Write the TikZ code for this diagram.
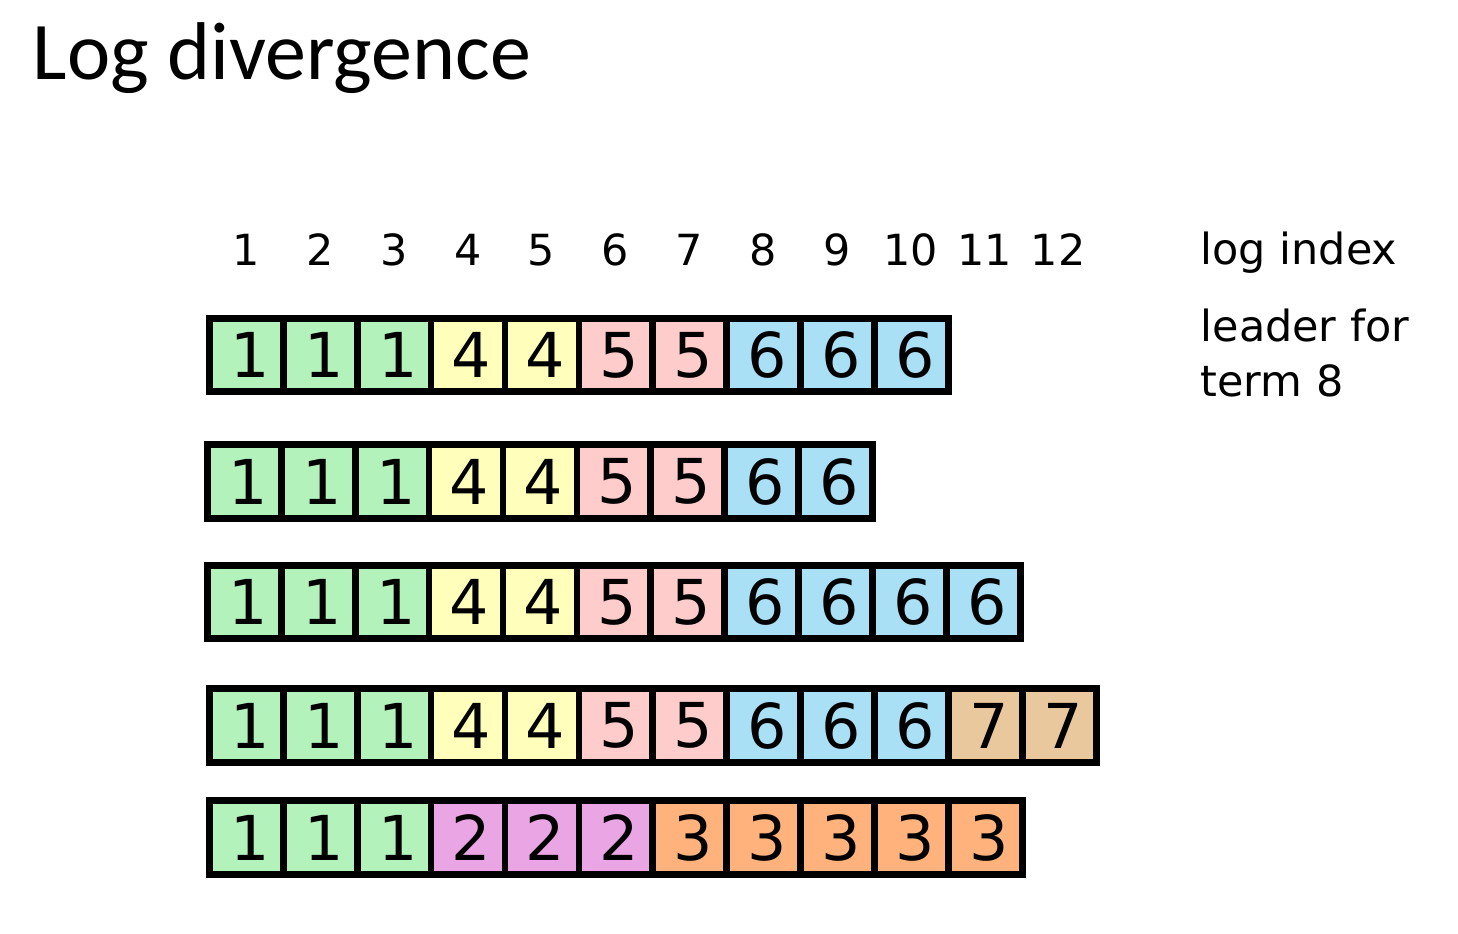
\documentclass[tikz,border=0pt]{standalone}
\usepackage{fontspec}
\setmainfont{DejaVu Sans}
\newfontfamily\titlefont{Carlito}
\usetikzlibrary{positioning}
\definecolor{col1}{RGB}{179,243,187}
\definecolor{col2}{RGB}{234,166,228}
\definecolor{col3}{RGB}{255,178,123}
\definecolor{col4}{RGB}{255,255,187}
\definecolor{col5}{RGB}{255,204,204}
\definecolor{col6}{RGB}{170,224,246}
\definecolor{col7}{RGB}{232,200,156}
\tikzset{
	cell/.style={draw,rectangle,line width=1.9pt,minimum width=0.739cm,minimum height=0.735cm,inner sep=0pt,font=\fontsize{17.6}{20}\selectfont},
	idx/.style={inner sep=0pt,font=\fontsize{12.2}{15.6}\selectfont}
}

\begin{document}
\begin{tikzpicture}[x=0.01cm,y=-0.01cm]
	\useasboundingbox (0,0) rectangle (1458,934);
	\node[anchor=base west,inner sep=0pt,font=\titlefont\fontsize{23.3}{28}\selectfont] (title) at (32,80) {Log divergence};
	% log index row
	\foreach \n in {1,...,12}
		\node[idx] (idx\n) at ({246.4+(\n-1)*73.8},250) {\n};
	\node[idx,anchor=base west] (logidx) at (1200,265) {log index};
	\node[idx,anchor=base west] (leader) at (1200,341.7) {leader for};
	\node[idx,anchor=base west] (term) at (1200,396.7) {term 8};
	% the logs
	\foreach \row/\xa/\ya/\vals in {1/246.4/355/{1,1,1,4,4,5,5,6,6,6},
			2/244.4/481.5/{1,1,1,4,4,5,5,6,6},
			3/244.4/602/{1,1,1,4,4,5,5,6,6,6,6},
			4/246.4/725.5/{1,1,1,4,4,5,5,6,6,6,7,7},
			5/246.4/837.5/{1,1,1,2,2,2,3,3,3,3,3}}
		\foreach \v [count=\i] in \vals
			\node[cell,fill=col\v] (r\row-\i) at ({\xa+(\i-1)*73.9},\ya) {\hspace*{2pt}\v};
\end{tikzpicture}
\end{document}
